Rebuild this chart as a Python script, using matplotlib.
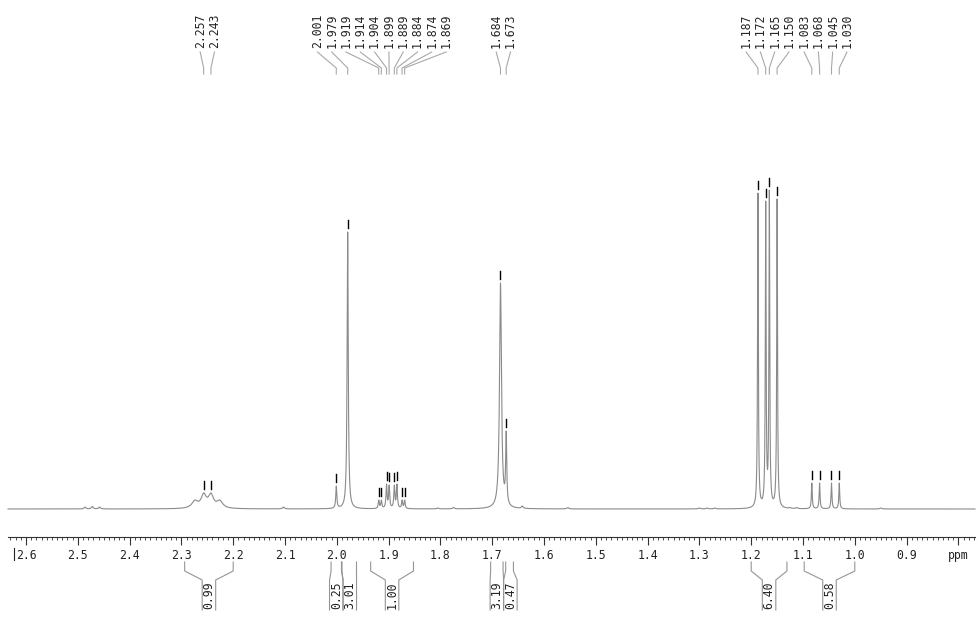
import numpy as np
import matplotlib
matplotlib.use('Agg')
import matplotlib.pyplot as plt
from matplotlib.ticker import FixedLocator, FuncFormatter

# picked peaks (ppm), apparent heights and half widths
peak_ppm = [2.257, 2.243, 2.001, 1.979, 1.919, 1.914, 1.904, 1.899, 1.889, 1.884,
            1.874, 1.869, 1.684, 1.673, 1.187, 1.172, 1.165, 1.150, 1.083, 1.068,
            1.045, 1.030]
peak_height = [16, 16, 23, 277, 9, 9, 25, 24, 24, 25,
               9, 9, 226, 78, 316, 308, 319, 310, 26, 26,
               26, 26]
peak_width = [0.006, 0.006, 0.0012, 0.0013, 0.0012, 0.0012, 0.0012, 0.0012, 0.0012, 0.0012,
              0.0012, 0.0012, 0.0022, 0.0012, 0.0009, 0.0009, 0.0009, 0.0009, 0.001, 0.001,
              0.001, 0.001]

# small unlabelled features
minor_ppm = [2.274, 2.226, 2.486, 2.472, 2.458, 2.103, 1.805, 1.775, 1.642, 1.554,
             1.300, 1.285, 1.270, 1.125, 1.112, 0.950]
minor_height = [9, 9, 2, 2.5, 2, 2, 1, 1.5, 3, 1.5, 1, 1, 1, 1.5, 1.5, 1]
minor_width = [0.007, 0.007, 0.002, 0.002, 0.002, 0.002, 0.002, 0.002, 0.002, 0.002,
               0.002, 0.002, 0.002, 0.002, 0.002, 0.002]

# integrals
int_label = ['0.99', '0.25', '3.01', '1.00', '3.19', '0.47', '6.40', '0.58']
int_start = [2.2937, 2.011, 1.990, 1.9346, 1.703, 1.674, 1.200, 1.0977]
int_end = [2.200, 1.991, 1.962, 1.852, 1.679, 1.659, 1.131, 1.000]

W, H = 979, 623
PX = 518.0  # pixels per ppm
FONT = 'DejaVu Sans Mono'
left_ppm = 2.6 + 18 / PX
right_ppm = 2.6 - 949 / PX

fig = plt.figure(figsize=(W / 100, H / 100), dpi=100)
ax = fig.add_axes([0, 0, 1, 1])
ax.set_xlim(2.6 + 26 / PX, 2.6 - 953 / PX)
ax.set_ylim(-(H - 509), 509)


def fy(p):
    # pixel row -> axes fraction
    return 1 - p / H


# build the spectrum as a sum of lorentzians matching the read heights
pos = np.array(peak_ppm + minor_ppm)
hgt = np.array(peak_height + minor_height, dtype=float)
wid = np.array(peak_width + minor_width)
A = 1.0 / (1.0 + ((pos[:, None] - pos[None, :]) / wid[None, :]) ** 2)
amp = np.clip(np.linalg.solve(A, hgt), 0, None)

x = np.linspace(left_ppm, right_ppm, 40000)
y = (amp[None, :] / (1.0 + ((x[:, None] - pos[None, :]) / wid[None, :]) ** 2)).sum(axis=1)
ax.plot(x, y, color='#8a8a8a', lw=0.8)

xf = ax.get_xaxis_transform()

# peak pick marks
for p in peak_ppm:
    top = (amp / (1.0 + ((p - pos) / wid) ** 2)).sum()
    ax.plot([p, p], [top + 4, top + 12], color='black', lw=1.0)

# spread peak labels so they do not overlap
gap = 14.3 / PX
order = sorted(peak_ppm, reverse=True)
clusters = [[p] for p in order]
changed = True
while changed:
    changed = False
    for i in range(len(clusters) - 1):
        a, b = clusters[i], clusters[i + 1]
        ca, cb = np.mean(a), np.mean(b)
        right_a = ca - (len(a) - 1) / 2 * gap
        left_b = cb + (len(b) - 1) / 2 * gap
        if right_a - left_b < gap - 1e-9:
            clusters[i] = a + b
            del clusters[i + 1]
            changed = True
            break
label_pos = []
for c in clusters:
    m = np.mean(c)
    for k in range(len(c)):
        label_pos.append(m + ((len(c) - 1) / 2 - k) * gap)

for p, lx in zip(order, label_pos):
    ax.text(lx, fy(48), f'{p:.3f}', rotation=90, ha='center', va='bottom',
            transform=xf, fontsize=8.3, family=FONT, color='#222222')
    ax.plot([lx, p, p], [fy(52), fy(68), fy(74)], transform=xf,
            color='#a8a8a8', lw=0.8)

# integral brackets
box = 13.5 / PX
centers = []
for s, e in zip(int_start, int_end):
    c = (s + e) / 2
    if centers and c > centers[-1] - box:
        c = centers[-1] - box
    centers.append(c)
for lab, s, e, c in zip(int_label, int_start, int_end, centers):
    bl, br = c + box / 2, c - box / 2
    for xe, xb in ((s, bl), (e, br)):
        ax.plot([xe, xe, xb, xb], [fy(562), fy(571), fy(580), fy(610)],
                transform=xf, color='#959595', lw=0.8)
    ax.text(c, fy(595), lab, rotation=90, ha='center', va='center',
            transform=xf, fontsize=8.3, family=FONT, color='#222222')

# ppm axis
for side in ('left', 'right', 'top'):
    ax.spines[side].set_visible(False)
ax.spines['bottom'].set_position(('axes', fy(537)))
ax.spines['bottom'].set_bounds(left_ppm, right_ppm)
ax.spines['bottom'].set_color('#333333')
ax.spines['bottom'].set_linewidth(0.8)
ax.yaxis.set_visible(False)
major = np.round(np.arange(2.6, 0.75, -0.1), 1)
minor = np.round(np.arange(2.63, right_ppm, -0.01), 2)
ax.xaxis.set_major_locator(FixedLocator(major))
ax.xaxis.set_minor_locator(FixedLocator(minor))
ax.xaxis.set_major_formatter(FuncFormatter(lambda v, _: 'ppm' if abs(v - 0.8) < 1e-6 else f'{v:.1f}'))
ax.tick_params(axis='x', which='major', direction='out', length=5.8, width=0.8,
               color='#333333', pad=3, labelsize=8.3, labelcolor='#222222')
ax.tick_params(axis='x', which='minor', direction='out', length=2.2, width=0.6,
               color='#333333')
for t in ax.get_xticklabels():
    t.set_family(FONT)
ax.plot([2.6 + 12 / PX] * 2, [fy(548), fy(560)], transform=xf, color='#222222', lw=0.8)

fig.savefig('out.png', dpi=100)
